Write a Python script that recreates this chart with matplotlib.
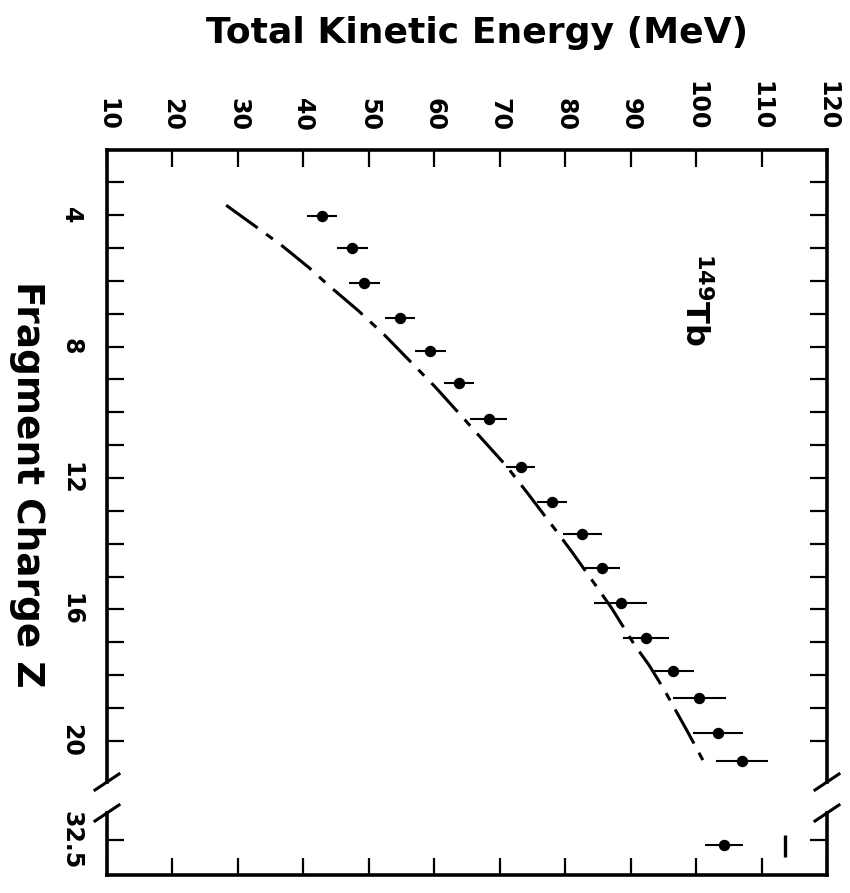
import matplotlib
matplotlib.use("Agg")
import matplotlib.pyplot as plt

# measured points (fragment charge Z, TKE in MeV, half width of the bar)
z_meas = [4.03, 5.01, 6.08, 7.12, 8.13, 9.12, 10.21, 11.66, 12.72, 13.71,
          14.73, 15.81, 16.88, 17.86, 18.70, 19.75, 20.62]
tke_meas = [42.8, 47.5, 49.3, 54.7, 59.4, 63.8, 68.3, 73.2, 78.0, 82.6,
            85.7, 88.5, 92.3, 96.5, 100.5, 103.4, 107.0]
tke_err = [2.3, 2.4, 2.4, 2.3, 2.35, 2.25, 2.8, 2.2, 2.35, 3.0,
           2.7, 4.05, 3.5, 3.2, 4.0, 3.8, 3.95]

# symmetric split point, beyond the axis break
z_sym = [32.65]
tke_sym = [104.2]
err_sym = [2.9]

# calculation (dash-dot curve)
theory_z = [3.70, 4.39, 4.91, 5.59, 6.13, 6.91, 7.65, 8.61, 9.22, 10.08, 10.77,
            11.63, 12.50, 13.60, 14.24, 15.25, 15.96, 17.08, 17.69, 18.40, 19.72, 20.83]
theory_tke = [28.2, 33.0, 36.6, 40.8, 43.8, 48.4, 52.4, 57.1, 60.1, 64.0, 67.1,
              71.0, 74.4, 78.6, 81.0, 84.6, 87.1, 90.6, 92.8, 95.0, 98.7, 101.7]
theory_sym_z = [32.68]
theory_sym_tke = [113.6]
theory_sym_halfwidth = [0.33]

tke_ticks = list(range(10, 121, 10))
z_labels = [4, 8, 12, 16, 20]
z_minor = list(range(3, 21))

plt.rcParams["font.family"] = ["DejaVu Sans"]
plt.rcParams["font.weight"] = "bold"
plt.rcParams["lines.scale_dashes"] = False

W, H = 850, 893
fig = plt.figure(figsize=(W / 100, H / 100), dpi=100)

def box(l, t, r, b):
    return [l / W, 1 - b / H, (r - l) / W, (b - t) / H]

ax = fig.add_axes(box(107, 150, 827, 782))
ax2 = fig.add_axes(box(107, 813, 827, 875))

for a in (ax, ax2):
    a.set_xlim(10, 120)
    for s in a.spines.values():
        s.set_linewidth(2.6)
    a.tick_params(which="both", direction="in", length=12, width=1.6,
                  left=True, right=True, labelsize=17)

ax.spines["bottom"].set_visible(False)
ax2.spines["top"].set_visible(False)

# upper part
ax.set_ylim(21.25, 2.02)
ax.xaxis.tick_top()
ax.set_xticks(tke_ticks)
ax.tick_params(axis="x", labelrotation=-90, pad=14)
ax.set_yticks(z_labels)
ax.set_yticks(z_minor, minor=True)
ax.tick_params(axis="y", pad=17)
plt.setp(ax.get_yticklabels(), rotation=-90, va="center")

# lower part
ax2.set_ylim(33.56, 31.68)
ax2.set_xticks(tke_ticks)
ax2.tick_params(axis="x", top=False, bottom=True, labelbottom=False)
ax2.set_yticks([32.5], labels=["32.5"])
ax2.tick_params(axis="y", pad=17)
plt.setp(ax2.get_yticklabels(), rotation=-90, va="center")

ax.errorbar(tke_meas, z_meas, xerr=tke_err, fmt="o", color="k", ms=7.2,
            elinewidth=1.5, capsize=0)
ax.plot(theory_tke, theory_z, color="k", lw=2.2, dashes=(28, 7.5, 6, 7.5))

ax2.errorbar(tke_sym, z_sym, xerr=err_sym, fmt="o", color="k", ms=7.2,
             elinewidth=1.5, capsize=0)
# calculated value for the symmetric split, drawn as a short bar
ax2.errorbar(theory_sym_tke, theory_sym_z, yerr=theory_sym_halfwidth, fmt="none",
             ecolor="k", elinewidth=2.4, capsize=0)

# break marks on both sides
def brk(a, y):
    bb = a.get_position()
    dx = 12 / (bb.width * W)
    dy = 8 / (bb.height * H)
    for x in (0, 1):
        a.plot([x - dx, x + dx], [y - dy, y + dy], transform=a.transAxes,
               color="k", lw=2.2, clip_on=False)

brk(ax, 0)
brk(ax2, 1)

ax.text(99.8, 6.56, r"$^{\mathbf{149}}$Tb", rotation=-90, fontsize=23,
        ha="center", va="center")

fig.text(477 / W, 1 - 33 / H, "Total Kinetic Energy (MeV)", fontsize=26,
         ha="center", va="center")
fig.text(27 / W, 1 - 484 / H, "Fragment Charge Z", fontsize=27, rotation=-90,
         ha="center", va="center")

fig.savefig("out.png", dpi=100)
